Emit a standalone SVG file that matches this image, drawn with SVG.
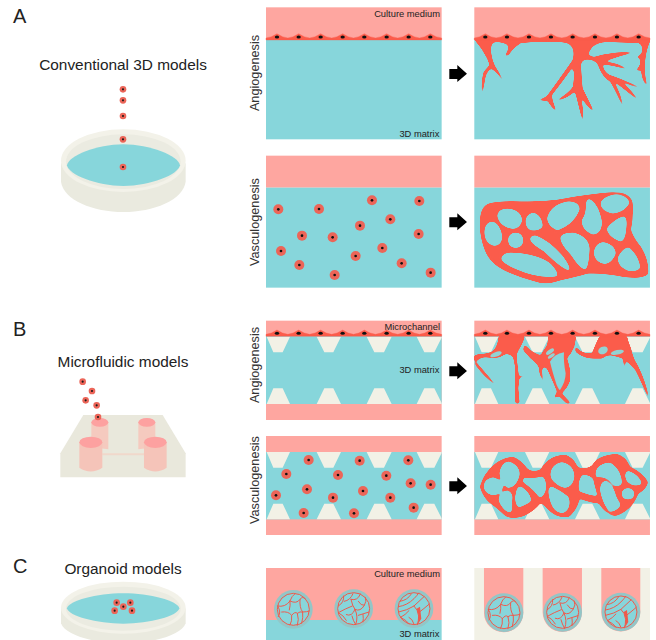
<svg xmlns="http://www.w3.org/2000/svg" xmlns:xlink="http://www.w3.org/1999/xlink" width="656" height="640" viewBox="0 0 656 640">
<style>
text{font-family:"Liberation Sans",Arial,sans-serif;fill:#222}
.head{font-size:20px}
.title{font-size:15.400px;text-anchor:middle}
.axis{font-size:12.700px;text-anchor:middle;fill:#333}
.tag{font-size:28px;text-anchor:end;fill:#222}
.pink{fill:#fea6a0}
.blue{fill:#87d6db}
.cream{fill:#f2f1e6}
.red{fill:#fb5c4b;stroke:#fb5c4b;stroke-width:1;stroke-linejoin:round}
.vessel{fill:#fb5c4b;fill-rule:evenodd}
.web{fill:none;stroke:#ee5a4c;stroke-width:3;stroke-linejoin:round;stroke-linecap:round}
.rim{fill:#87d6db;stroke:#ee5a4c;stroke-width:3}
.bubble{fill:#93d3d3}
</style>
<defs>
<!-- rounds the corners of the vessel outlines -->
<filter id="round-off" x="-5%" y="-5%" width="110%" height="110%" color-interpolation-filters="sRGB">
<feGaussianBlur stdDeviation="2.500"/>
<feColorMatrix type="matrix" values="1 0 0 0 0 0 1 0 0 0 0 0 1 0 0 0 0 0 7 -2.600"/>
</filter>
<!-- stronger rounding for the closed networks, which also thickens the strands -->
<filter id="round-net" x="-5%" y="-5%" width="110%" height="110%" color-interpolation-filters="sRGB">
<feGaussianBlur stdDeviation="5"/>
<feColorMatrix type="matrix" values="1 0 0 0 0 0 1 0 0 0 0 0 1 0 0 0 0 0 8 -2.900"/>
</filter>
<g id="cell"><circle r="15" fill="#ec6558"/><circle r="4" fill="#111"/></g>
<g id="drop"><circle r="10" fill="#ec6558"/><circle r="3.200" fill="#1a1a1a"/></g>
<ellipse id="nucleus" rx="6.500" ry="4.500" fill="#111"/>
<g id="lining">
<path class="red" d="M78 3Q95 1 111-10Q127 1 143.500 3Q160 1 176-10Q192 1 209 3Q226 1 242-10Q258 1 275 3Q292 1 308-10Q324 1 340.500 3Q357 1 373-10Q390 1 406.500 3Q424 1 440-10Q456 1 473 3Q490 1 506-10Q522 1 538.500 3Q555 1 571-10Q588 1 605 3L605 9L78 9Z"/>
<use xlink:href="#nucleus" x="111"/><use xlink:href="#nucleus" x="176"/><use xlink:href="#nucleus" x="242"/><use xlink:href="#nucleus" x="308"/><use xlink:href="#nucleus" x="373"/><use xlink:href="#nucleus" x="440"/><use xlink:href="#nucleus" x="506"/><use xlink:href="#nucleus" x="571"/>
</g>
<path id="posts" class="cream" d="M80 0L150 0L128 47L100 47ZM230 0L303 0L280 47L253 47ZM380 0L455 0L432 47L403 47ZM530 0L605 0L605 3L583 47L553 47Z"/>
<path id="arrow" fill="#000" d="M628-14L652-14L652-26L681 0L652 25L652 16L628 16Z"/>
<circle id="halo" r="58" fill="#93c6c7"/>
<g id="organoid-one">
<use xlink:href="#halo"/><circle class="rim" r="48"/>
<path class="web" d="M-47-10Q-25-5-10-25Q-5-40 5-47M-10-25Q10-15 20-30Q28-40 35-32M20-30Q18-5 28 8Q40 8 48 5M28 8Q30 25 25 42M-47-10Q-35 10-45 22M-35 8Q-15 5-5 18Q-3 35-10 47M-5 18Q5 5 12 12Q18 30 12 48M12 12Q20 5 28 8M-12 2Q-8-12-10-25"/>
</g>
<g id="organoid-two">
<use xlink:href="#halo"/><circle class="rim" r="48"/>
<path class="web" d="M-30-38Q-28-18-46-8M-28-22Q-10-25-2-45M-8-28Q12-22 20-44M-8-28Q-4-8 4 2Q20 10 32-10Q40-22 35-34M14-22Q22-8 32-10M-46 12Q-25 0-4-8M-46 12Q-30 20-22 35M-22 18Q-5 25 4 2M-5 22Q-2 35 6 48M4 2Q15 25 6 48M14 20Q30 15 46 10M28 17Q30 30 28 40"/>
</g>
<g id="organoid-three">
<use xlink:href="#halo"/><circle class="rim" r="48"/>
<path class="web" d="M-42-22Q-20-25-8-44M-46-6Q-20-10 0-30Q10-40 14-47M-46 10Q-20 5 0-8Q15-22 30-36M0-8Q12 2 14 22Q14 38 10 48M14 12Q30 0 46-14M-40 26Q-25 18-15 6M-40 26Q-22 35-14 46M-15 26Q-5 30 0 46"/>
<path fill="#ee5a4c" d="M8 0L18-6L22 30L12 46L14 20Z"/>
</g>
</defs>

<!-- left column: culture formats -->
<text class="head" x="13" y="23">A</text>
<text class="title" x="123" y="70">Conventional 3D models</text>
<g id="dish-a" transform="scale(.3333)">
<path fill="#eaeadf" d="M183 490L183 545C190 600 280 636 370 636C460 636 550 600 557 545L557 490Z"/>
<ellipse cx="370" cy="482" rx="187" ry="94" fill="#f3f2e9"/>
<ellipse cx="370" cy="485" rx="172" ry="82" fill="#ebebe1"/>
<path class="blue" d="M201 496C205 468 290 433 370 433C450 433 536 468 540 496C536 524 450 558 370 558C290 558 205 524 201 496Z"/>
<use xlink:href="#drop" x="369" y="268"/><use xlink:href="#drop" x="369" y="301"/><use xlink:href="#drop" x="369" y="348"/><use xlink:href="#drop" x="369" y="418"/><use xlink:href="#drop" x="369" y="501"/>
</g>

<text class="head" x="13" y="336">B</text>
<text class="title" x="123" y="367">Microfluidic models</text>
<g id="chip-b" transform="translate(0 310) scale(.3333)">
<path fill="#e9e8dc" d="M250 315L488 315L557 430L557 502L181 502L181 430Z"/>
<path fill="#f0d8cb" d="M307 430L432 430L432 436L307 436Z"/>
<path fill="#f5cabf" d="M274 337L274 412L325 418L325 337Z"/><ellipse cx="299.500" cy="337" rx="25.500" ry="13" fill="#fda1a0"/>
<path fill="#f5cabf" d="M415 337L415 418L466 412L466 337Z"/><ellipse cx="440.500" cy="337" rx="25.500" ry="13" fill="#fda1a0"/>
<path fill="#f5c4b9" d="M238 397L238 473Q272 496 307 473L307 397Z"/><ellipse cx="272.500" cy="397" rx="34.500" ry="17" fill="#fda1a0"/>
<path fill="#f5c4b9" d="M432 397L432 473Q466 496 500 473L500 397Z"/><ellipse cx="466" cy="397" rx="34" ry="17" fill="#fda1a0"/>
<use xlink:href="#drop" x="248" y="215"/><use xlink:href="#drop" x="276" y="243"/><use xlink:href="#drop" x="257" y="271"/><use xlink:href="#drop" x="290" y="286"/><use xlink:href="#drop" x="294" y="321"/>
</g>

<text class="head" x="13" y="573">C</text>
<text class="title" x="123" y="574">Organoid models</text>
<g id="dish-c" transform="translate(0 310) scale(.3333)">
<path fill="#eaeadf" d="M183 895L183 940C195 975 280 1000 370 1000C460 1000 545 975 557 940L557 895Z"/>
<ellipse cx="370" cy="893" rx="187" ry="78" fill="#f3f2e9"/>
<ellipse cx="370" cy="896" rx="172" ry="66" fill="#ebebe1"/>
<path class="blue" d="M201 895C205 873 290 850 370 850C450 850 534 873 538 895C534 918 450 941 370 941C290 941 205 918 201 895Z"/>
<use xlink:href="#drop" x="350" y="878"/><use xlink:href="#drop" x="391" y="878"/><use xlink:href="#drop" x="370" y="890"/><use xlink:href="#drop" x="344" y="902"/><use xlink:href="#drop" x="396" y="902"/>
</g>

<text class="axis" transform="translate(259 73) rotate(-90)">Angiogenesis</text>
<text class="axis" transform="translate(259 222) rotate(-90)">Vasculogenesis</text>
<text class="axis" transform="translate(259 365) rotate(-90)">Angiogenesis</text>
<text class="axis" transform="translate(259 480) rotate(-90)">Vasculogenesis</text>

<!-- A: sprouting from a lined gel -->
<g id="panel-a-angio-before" transform="translate(240 0) scale(.3333)">
<rect class="pink" x="78" y="22" width="527" height="96"/>
<rect class="blue" x="78" y="118" width="527" height="300"/>
<use xlink:href="#lining" y="111"/>
<text class="tag" x="600" y="50">Culture medium</text>
<text class="tag" x="598" y="411">3D matrix</text>
</g>
<use xlink:href="#arrow" transform="translate(240 73.700) scale(.3333)"/>
<g id="panel-a-angio-after">
<g transform="translate(240 0) scale(.3333)">
<rect class="pink" x="703" y="22" width="527" height="96"/>
<rect class="blue" x="703" y="118" width="527" height="300"/>
</g>
<path transform="translate(474 30) scale(.3333)" class="red" filter="url(#round-off)" d="M1 24L527 24L527 35Q515 60 512 100Q510 140 520 168Q508 158 503 130Q503 118 497 120L486 122Q498 110 500 100L498 85L487 80Q502 78 505 65Q508 45 495 38L400 35Q355 35 343 70Q342 78 360 82L385 75Q430 65 480 67Q430 78 390 95Q430 98 465 120Q420 105 385 103Q388 125 405 135Q450 150 508 177Q465 165 440 152Q470 180 498 215Q450 175 418 152Q440 190 450 238Q430 190 410 155Q385 140 375 110Q368 90 345 88Q322 85 320 105Q322 145 325 175L360 246Q330 220 320 195Q328 240 328 280Q318 240 308 200L303 183Q280 205 245 213Q285 190 298 170L302 130L295 112Q265 155 233 195Q232 210 248 246Q228 225 222 212L192 210Q215 205 222 195Q255 150 297 90Q305 60 290 45Q280 35 250 35Q190 33 140 38Q115 55 103 75L92 78Q110 55 100 43Q75 30 55 38Q45 55 55 90Q60 110 75 128Q85 142 91 163Q75 130 52 115Q35 125 32 150L24 198Q22 150 30 125L48 105L40 85Q25 55 3 30Z"/>
<use xlink:href="#lining" transform="translate(240 0) scale(.3333) translate(625 111)"/>
</g>

<!-- A: scattered cells forming a network -->
<g id="panel-a-vasculo-before" transform="translate(240 150) scale(.3333)">
<rect class="pink" x="78" y="17" width="527" height="96"/>
<rect class="blue" x="78" y="113" width="527" height="300"/>
<use xlink:href="#cell" x="115" y="178"/><use xlink:href="#cell" x="237" y="177"/><use xlink:href="#cell" x="396" y="151"/><use xlink:href="#cell" x="538" y="153"/><use xlink:href="#cell" x="451" y="208"/><use xlink:href="#cell" x="360" y="227"/><use xlink:href="#cell" x="186" y="257"/><use xlink:href="#cell" x="278" y="262"/><use xlink:href="#cell" x="536" y="252"/><use xlink:href="#cell" x="123" y="303"/><use xlink:href="#cell" x="427" y="294"/><use xlink:href="#cell" x="347" y="318"/><use xlink:href="#cell" x="178" y="345"/><use xlink:href="#cell" x="485" y="340"/><use xlink:href="#cell" x="284" y="375"/><use xlink:href="#cell" x="572" y="368"/>
</g>
<use xlink:href="#arrow" transform="translate(240 222) scale(.3333)"/>
<g id="panel-a-vasculo-after">
<g transform="translate(240 150) scale(.3333)">
<rect class="pink" x="703" y="17" width="527" height="96"/>
<rect class="blue" x="703" y="113" width="527" height="300"/>
</g>
<path transform="translate(474 185) scale(.3333)" class="vessel" filter="url(#round-net)" d="M18 115Q18 70 40 58Q70 47 140 50Q200 52 250 45Q340 28 420 22Q465 22 475 50Q478 100 470 135Q478 160 500 185Q525 225 522 268Q505 282 450 275Q390 262 340 265Q310 275 260 285Q225 298 200 293Q130 275 90 255Q50 235 35 200Q18 160 18 115Z
M55 108Q80 115 86 155Q85 183 58 184Q30 175 30 140Q32 110 55 108Z
M100 70Q140 72 146 105Q140 133 115 133Q75 125 68 92Q72 70 100 70Z
M180 82Q205 90 208 125Q195 140 170 137Q152 130 154 105Q158 84 180 82Z
M285 48Q320 50 318 75Q300 120 250 138Q220 125 218 100Q230 55 285 48Z
M345 40Q375 55 385 110Q385 148 355 150Q320 135 322 105Q335 90 335 60Q335 42 345 40Z
M425 28Q462 30 468 55Q450 85 415 87Q380 80 378 55Q385 32 425 28Z
M450 92Q462 95 458 130Q455 170 440 172Q398 155 397 130Q420 100 450 92Z
M125 142Q148 143 149 166Q148 190 125 190Q102 189 101 166Q102 143 125 142Z
M185 150Q225 165 265 210Q292 245 288 258Q265 255 210 200Q165 175 167 160Q170 150 185 150Z
M300 142Q345 155 348 190Q345 255 332 255Q315 250 290 210Q255 175 258 155Q265 142 300 142Z
M390 170Q425 178 427 205Q415 238 390 238Q358 230 358 200Q365 170 390 170Z
M465 185Q498 215 500 250Q490 263 460 258Q430 245 430 220Q440 190 465 185Z
M110 202Q190 205 230 235Q258 265 250 275Q190 282 130 255Q80 235 80 220Q85 202 110 202Z"/>
</g>

<!-- B: device with posts, sprouting -->
<g id="panel-b-angio-before" transform="translate(240 315) scale(.3333)">
<rect class="pink" x="78" y="17" width="527" height="298"/>
<rect class="blue" x="78" y="62" width="527" height="205"/>
<use xlink:href="#posts" y="65"/>
<use xlink:href="#posts" transform="translate(0 267) scale(1 -1)"/>
<use xlink:href="#lining" y="55"/>
<text class="tag" x="600" y="44">Microchannel</text>
<text class="tag" x="598" y="175">3D matrix</text>
</g>
<use xlink:href="#arrow" transform="translate(240 371) scale(.3333)"/>
<g id="panel-b-angio-after">
<g transform="translate(240 315) scale(.3333)">
<rect class="pink" x="703" y="17" width="527" height="298"/>
<rect class="blue" x="703" y="62" width="527" height="205"/>
<use xlink:href="#posts" x="625" y="65"/>
<use xlink:href="#posts" transform="translate(625 267) scale(1 -1)"/>
</g>
<g transform="translate(474 325) scale(.3333)">
<g filter="url(#round-off)">
<path class="red" d="M75 33L152 33Q148 50 135 72Q125 85 128 105L134 155L162 147L135 160L132 190L136 235L125 235Q122 170 124 125L118 95Q100 80 88 90Q75 100 45 97Q20 92 5 110Q30 140 72 187Q30 155 5 120L0 95Q5 88 25 88Q50 85 58 78Q72 65 75 33Z"/>
<path class="red" d="M222 33L305 33Q305 60 290 85L278 100Q290 130 288 165Q280 190 262 205L290 235L278 235L255 212L240 220L250 200Q240 175 222 135L215 125L205 128Q200 145 212 178Q195 150 195 125Q185 110 170 100L148 75L152 60Q175 85 200 92L212 72Q225 60 222 33Z"/>
<path class="red" d="M378 33L458 33Q462 50 470 70Q478 105 490 120Q515 170 527 228Q505 175 485 135Q470 120 455 105L452 132L447 100Q425 92 410 90Q395 90 385 100L360 100Q330 100 305 80L305 65Q325 90 355 85Q368 50 378 33Z"/>
</g>
<path class="blue" d="M270 82Q240 88 228 110Q235 140 248 180Q255 195 258 195Q275 170 275 145Q268 110 270 82Z"/>
<g class="bubble">
<ellipse transform="rotate(-20 66 88)" cx="66" cy="88" rx="18" ry="7"/>
<ellipse transform="rotate(-35 228 80)" cx="228" cy="80" rx="14" ry="6"/>
<ellipse transform="rotate(-35 232 93)" cx="232" cy="93" rx="12" ry="5"/>
<ellipse transform="rotate(-25 387 76)" cx="387" cy="76" rx="15" ry="11"/>
<ellipse transform="rotate(-12 430 82)" cx="430" cy="82" rx="20" ry="7"/>
</g>
</g>
<use xlink:href="#lining" transform="translate(240 315) scale(.3333) translate(625 55)"/>
</g>

<!-- B: device with posts, network -->
<g id="panel-b-vasculo-before" transform="translate(240 430) scale(.3333)">
<rect class="pink" x="78" y="18" width="527" height="297"/>
<rect class="blue" x="78" y="66" width="527" height="202"/>
<use xlink:href="#posts" y="66"/>
<use xlink:href="#posts" transform="translate(0 268) scale(1 -1)"/>
<use xlink:href="#cell" x="206" y="90"/><use xlink:href="#cell" x="359" y="92"/><use xlink:href="#cell" x="505" y="91"/><use xlink:href="#cell" x="139" y="132"/><use xlink:href="#cell" x="294" y="135"/><use xlink:href="#cell" x="439" y="137"/><use xlink:href="#cell" x="512" y="160"/><use xlink:href="#cell" x="572" y="164"/><use xlink:href="#cell" x="201" y="178"/><use xlink:href="#cell" x="369" y="183"/><use xlink:href="#cell" x="108" y="196"/><use xlink:href="#cell" x="279" y="203"/><use xlink:href="#cell" x="451" y="203"/><use xlink:href="#cell" x="521" y="233"/><use xlink:href="#cell" x="191" y="249"/><use xlink:href="#cell" x="342" y="250"/>
</g>
<use xlink:href="#arrow" transform="translate(240 486) scale(.3333)"/>
<g id="panel-b-vasculo-after">
<g transform="translate(240 430) scale(.3333)">
<rect class="pink" x="703" y="18" width="527" height="297"/>
<rect class="blue" x="703" y="66" width="527" height="202"/>
<use xlink:href="#posts" x="625" y="66"/>
<use xlink:href="#posts" transform="translate(625 268) scale(1 -1)"/>
</g>
<path transform="translate(474 445) scale(.3333)" class="vessel" filter="url(#round-net)" d="M18 125Q30 85 60 60Q90 35 120 37Q145 50 160 72Q175 84 200 74Q225 30 275 30Q300 40 310 66Q330 78 355 62Q370 30 430 28Q455 35 468 66Q505 82 522 112Q515 135 492 146Q488 160 478 174Q458 202 425 212Q395 210 375 174Q350 174 316 160Q312 190 285 215Q245 220 222 192L200 172Q185 195 150 212Q115 224 95 213Q80 198 60 182Q30 165 18 125Z
M58 95Q88 105 88 125Q85 150 55 152Q28 145 28 122Q30 100 58 95Z
M105 48Q140 60 138 90Q128 130 100 130Q80 115 75 85Q80 50 105 48Z
M100 135Q120 140 115 165Q118 200 110 205Q85 200 72 165Q75 140 100 135Z
M140 122Q175 145 172 170Q140 190 130 187Q118 165 125 145Q125 125 140 122Z
M148 97Q190 100 205 92Q222 105 215 140Q205 162 195 158Q175 130 145 112Z
M265 50Q305 60 302 100Q295 130 270 130Q230 115 228 90Q230 55 265 50Z
M232 122Q260 135 285 155Q295 190 270 205Q240 208 228 170Q215 130 232 122Z
M325 88Q360 90 360 110L372 155Q340 150 315 140Q308 110 325 88Z
M410 52Q445 75 445 118Q425 135 410 110Q395 95 365 98Q360 75 375 62Q395 50 410 52Z
M395 106Q420 120 428 155L442 180Q425 205 405 200Q385 175 378 140Q375 110 395 106Z
M462 128Q482 129 482 146Q482 164 462 164Q442 164 442 146Q442 129 462 128Z
M462 76Q500 90 505 118Q480 130 458 110Q445 85 462 76Z"/>
</g>

<!-- C: organoids on gel and in wells -->
<g id="panel-c-gel" transform="translate(240 550) scale(.3333)">
<rect class="pink" x="78" y="54" width="527" height="156"/>
<rect class="blue" x="78" y="210" width="527" height="60"/>
<use xlink:href="#organoid-one" x="160" y="178"/>
<use xlink:href="#organoid-two" x="341" y="176"/>
<use xlink:href="#organoid-three" x="522" y="176"/>
<text class="tag" x="600" y="82">Culture medium</text>
<text class="tag" x="598" y="262">3D matrix</text>
</g>
<g id="panel-c-wells" transform="translate(240 550) scale(.3333)">
<rect class="cream" x="703" y="54" width="527" height="216"/>
<path class="pink" d="M732 54L850 54L850 188A59 59 0 0 1 732 188ZM908 54L1026 54L1026 187A59 59 0 0 1 908 187ZM1084 54L1201 54L1201 186A58.500 58.500 0 0 1 1084 186Z"/>
<use xlink:href="#organoid-one" x="792" y="188"/>
<use xlink:href="#organoid-two" x="968" y="187"/>
<use xlink:href="#organoid-three" x="1143" y="186"/>
</g>
</svg>
